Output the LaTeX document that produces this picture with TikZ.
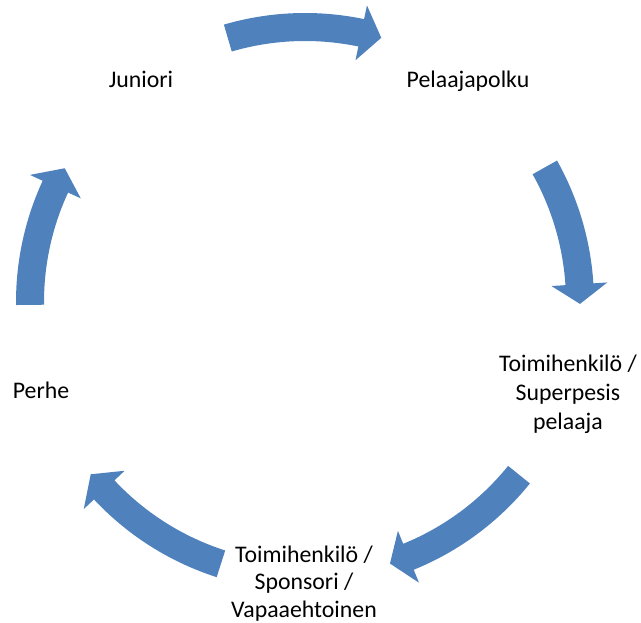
\documentclass[tikz,border=0pt]{standalone}
\usepackage{fontspec}
\setmainfont{Carlito}
\definecolor{cycleblue}{RGB}{79,129,189}
\tikzset{
  lbl/.style={font=\fontsize{23.8}{29}\selectfont, align=center, inner sep=0pt, anchor=base},
}
% curved block arrow on the cycle ring: #1 tail angle, #2 angle where the head starts, #3 tip angle
\newcommand\cyclearrow[3]{%
  \fill[cycleblue] (#1:289) arc[start angle=#1, end angle=#2, radius=289]
    -- (#2:303) -- (#3:275) -- (#2:247) -- (#2:261)
    arc[start angle=#2, end angle=#1, radius=261] -- cycle;
}
\begin{document}
\begin{tikzpicture}[x=1pt,y=1pt]
\useasboundingbox (0,0) rectangle (641,623);

% stages of the cycle (multi-line labels are placed by their last baseline)
\node[lbl] (juniori) at (141,535.7) {Juniori};
\node[lbl] (polku) at (468,535.7) {Pelaajapolku};
\node[lbl] (superpesis) at (568,193) {Toimihenkilö /\\Superpesis\\pelaaja};
\node[lbl, font=\fontsize{23.8}{27.5}\selectfont] (sponsori) at (304,5.5) {Toimihenkilö /\\Sponsori /\\Vapaaehtoinen};
\node[lbl] (perhe) at (41,224.7) {Perhe};

% arrows between the stages
\begin{scope}[shift={(305,321)}]
  \cyclearrow{106.3}{78.2}{73.9}
  \cyclearrow{29.3}{3.7}{-0.4}
  \cyclearrow{-38.9}{-67.9}{-72.0}
  \cyclearrow{-107.8}{-136.9}{-141.2}
  \cyclearrow{180.6}{155.2}{150.9}
\end{scope}
\end{tikzpicture}
\end{document}
